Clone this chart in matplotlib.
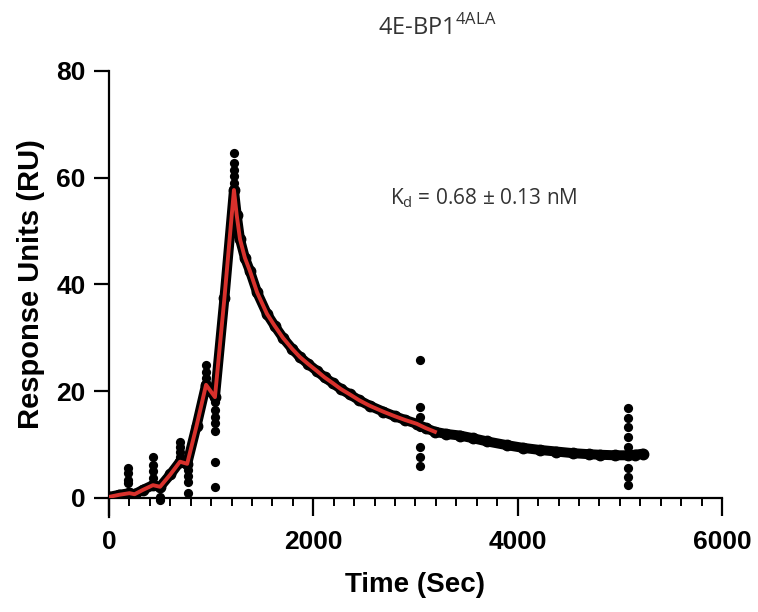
import matplotlib
matplotlib.use("Agg")
import matplotlib.pyplot as plt
import matplotlib.lines as mlines

# sensorgram trace (dense dots)
trace_t = [0, 100, 200, 250, 330, 430, 500, 600, 695, 765, 857, 950, 1037, 1130, 1223,
           1250, 1282, 1330, 1380, 1450, 1546, 1620, 1703, 1790, 1869, 1950, 2035, 2110,
           2192, 2270, 2358, 2450, 2550, 2681, 2800, 2900, 3013, 3100, 3190, 3300, 3434,
           3562, 3700, 3894, 4050, 4217, 4380, 4540, 4700, 4804, 4950, 5078, 5150, 5225]
trace_v = [0.2, 0.6, 0.9, 0.7, 1.5, 2.4, 2.1, 4.4, 6.8, 6.4, 13.5, 21.2, 18.9, 37.5, 57.7,
           53.0, 48.5, 45.0, 42.5, 38.5, 34.5, 32.3, 30.0, 28.0, 26.4, 25.1, 23.8, 22.6,
           21.5, 20.4, 19.4, 18.3, 17.3, 16.2, 15.3, 14.6, 13.9, 13.1, 12.4, 12.0, 11.7,
           11.2, 10.6, 9.9, 9.4, 9.0, 8.7, 8.4, 8.2, 8.1, 8.0, 8.0, 8.1, 8.3]

# injection start/stop spikes
spike_t = [186, 186, 186, 186,
           430, 430, 430, 430, 500, 500,
           695, 695, 695, 695, 770, 770, 770, 770,
           950, 950, 950,
           1037, 1037, 1037, 1037, 1037, 1037, 1037,
           1223, 1223, 1223, 1223, 1223,
           3043, 3043, 3043, 3043, 3043, 3043, 3043,
           5078, 5078, 5078, 5078, 5078, 5078, 5078, 5078]
spike_v = [5.7, 4.6, 3.4, 2.8,
           7.6, 6.2, 5.0, 3.8, 0.2, -0.3,
           10.5, 9.6, 8.6, 7.7, 5.2, 4.2, 3.0, 0.9,
           24.9, 23.6, 22.5,
           18.0, 16.5, 15.2, 14.0, 12.6, 6.7, 2.1,
           64.6, 62.7, 61.5, 60.3, 59.0,
           25.8, 17.0, 15.2, 13.3, 9.6, 7.7, 6.0,
           16.9, 15.0, 13.3, 11.4, 9.6, 5.6, 4.0, 2.4]

# kinetic fit
fit_t = [0, 100, 200, 250, 330, 430, 500, 600, 695, 765, 857, 950, 1037, 1130, 1223,
         1250, 1282, 1330, 1380, 1450, 1546, 1620, 1703, 1790, 1869, 1950, 2035, 2110,
         2192, 2270, 2358, 2450, 2550, 2681, 2800, 2900, 3013, 3100, 3190]
fit_v = [0.2, 0.6, 0.9, 0.7, 1.5, 2.4, 2.1, 4.4, 6.8, 6.4, 13.5, 21.2, 18.9, 37.5, 57.7,
         53.0, 48.5, 45.0, 42.5, 38.5, 34.5, 32.3, 30.0, 28.0, 26.4, 25.1, 23.8, 22.6,
         21.5, 20.4, 19.4, 18.3, 17.3, 16.2, 15.3, 14.6, 13.9, 13.1, 12.4]

plt.rcParams['mathtext.fontset'] = 'custom'
plt.rcParams['mathtext.rm'] = 'Open Sans'
tick_font = 'Liberation Sans'

fig = plt.figure(figsize=(7.58, 6.12), dpi=100)
ax = fig.add_axes([0.1438, 0.1863, 0.8087, 0.6977])

ax.plot(trace_t, trace_v, color='black', lw=7.2, marker='o', ms=7.5,
        solid_joinstyle='round', solid_capstyle='round', zorder=2)
ax.scatter(spike_t, spike_v, s=44, color='black', linewidths=0, zorder=2, clip_on=False)
ax.plot(fit_t, fit_v, color='#d8312c', lw=2.8, solid_joinstyle='round', zorder=3)

ax.set_xlim(0, 6000)
ax.set_ylim(0, 80)
ax.set_xticks([0, 2000, 4000, 6000])
ax.set_xticks(range(0, 6001, 200), minor=True)
ax.set_yticks([0, 20, 40, 60, 80])
for s in ['top', 'right']:
    ax.spines[s].set_visible(False)
for s in ['left', 'bottom']:
    ax.spines[s].set_linewidth(1.6)
ext = mlines.Line2D([0, 0], [0, -0.045], transform=ax.transAxes, color='black',
                    lw=1.6, clip_on=False)
ax.add_line(ext)

ax.tick_params(axis='x', which='major', length=13, width=1.6, pad=10)
ax.tick_params(axis='x', which='minor', length=6, width=1.4)
ax.tick_params(axis='y', which='major', length=11, width=1.6, pad=6)
for lab in ax.get_xticklabels() + ax.get_yticklabels():
    lab.set_family(tick_font)
    lab.set_fontweight('bold')
    lab.set_fontsize(19)

ax.set_xlabel('Time (Sec)', family=tick_font, fontweight='bold', fontsize=20, labelpad=13)
ax.set_ylabel('Response Units (RU)', family=tick_font, fontweight='bold', fontsize=21,
              labelpad=8)

fig.text(0.5765, 0.943, r'4E-BP1$^{\mathrm{4ALA}}$', ha='center', va='baseline',
         family='Open Sans', fontsize=17, color='#333333')
ax.text(2750, 55, r'K$_{\mathrm{d}}$ = 0.68 ± 0.13 nM', ha='left', va='baseline',
        family='Open Sans', fontsize=15, color='#333333')

fig.savefig('out.png', dpi=100)
